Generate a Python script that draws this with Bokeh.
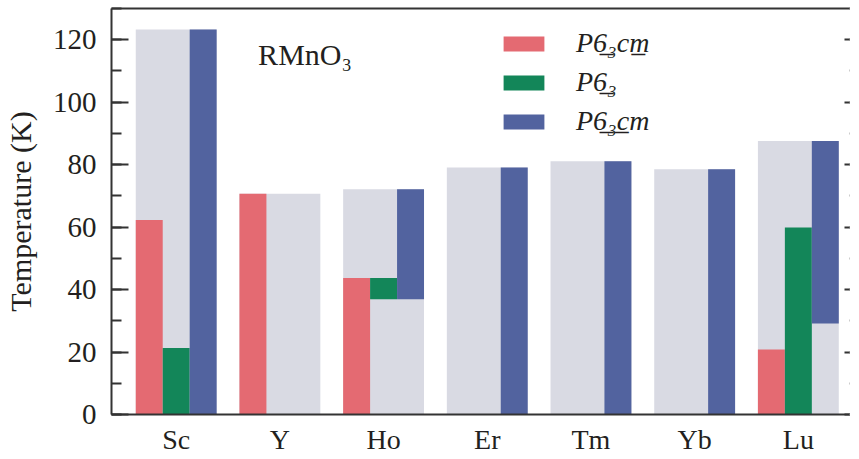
from bokeh.plotting import figure
from bokeh.models import (Range1d, LinearAxis, FixedTicker, SingleIntervalTicker,
                          Legend, LegendItem, Label, ColumnDataSource)
from bokeh.embed import file_html
from bokeh.resources import INLINE

# ---------------- data ----------------
elements = ["Sc", "Y", "Ho", "Er", "Tm", "Yb", "Lu"]
total_top = [123.3, 70.7, 72.1, 79.1, 81.1, 78.5, 87.6]
pink_bottom = [0, 0, 0, None, None, None, 0]
pink_top = [62.3, 70.7, 43.7, None, None, None, 20.8]
green_bottom = [0, None, 36.9, None, None, None, 0]
green_top = [21.3, None, 43.7, None, None, None, 59.9]
blue_bottom = [0, None, 36.9, 0, 0, 0, 29.1]
blue_top = [123.3, None, 72.1, 79.1, 81.1, 78.5, 87.6]
legend_labels = ["P6\u0332\u2083cm\u0332", "P6\u0332\u2083", "P6\u0332\u2083c\u0332m"]
y_ticks = [0, 20, 40, 60, 80, 100, 120]

PINK = "#E46A72"
GREEN = "#138659"
BLUE = "#52639F"
GRAY = "#D9DAE3"
INK = "#231F20"
SERIF = "Liberation Serif"

GROUP_W = 0.78
SUB_W = 0.26
positions = list(range(1, len(elements) + 1))


def series(bottoms, tops, offset):
    xs, bs, ts = [], [], []
    for pos, b, t in zip(positions, bottoms, tops):
        if b is None or t is None:
            continue
        xs.append(pos + offset)
        bs.append(b)
        ts.append(t)
    return ColumnDataSource(dict(x=xs, bottom=bs, top=ts))


p = figure(width=850, height=458, output_backend="svg", toolbar_location=None,
           x_range=Range1d(0.376, 7.503), y_range=Range1d(0, 130),
           min_border_left=104, min_border_right=0, min_border_top=8,
           min_border_bottom=44, outline_line_color=None,
           x_axis_location=None, y_axis_location=None)
p.background_fill_color = "white"
p.border_fill_color = "white"
p.xgrid.visible = False
p.ygrid.visible = False

# background (total) bars
p.vbar(x=positions, bottom=0, top=total_top, width=GROUP_W,
       fill_color=GRAY, line_color=None)

r_pink = p.vbar(x="x", bottom="bottom", top="top", width=SUB_W,
                source=series(pink_bottom, pink_top, -SUB_W),
                fill_color=PINK, line_color=None)
r_green = p.vbar(x="x", bottom="bottom", top="top", width=SUB_W,
                 source=series(green_bottom, green_top, 0.0),
                 fill_color=GREEN, line_color=None)
r_blue = p.vbar(x="x", bottom="bottom", top="top", width=SUB_W,
                source=series(blue_bottom, blue_top, SUB_W),
                fill_color=BLUE, line_color=None)

# ---------------- axes ----------------
yticker = SingleIntervalTicker(interval=20, num_minor_ticks=2)
yl = LinearAxis(ticker=yticker, axis_label="Temperature (K)")
yl.axis_line_width = 2
yl.axis_line_color = "#333333"
yl.major_tick_in = 17
yl.major_tick_out = 0
yl.minor_tick_in = 10
yl.minor_tick_out = 0
yl.major_tick_line_width = 2
yl.minor_tick_line_width = 2
yl.major_tick_line_color = "#333333"
yl.minor_tick_line_color = "#333333"
yl.major_label_text_font = SERIF
yl.major_label_text_font_size = "29px"
yl.major_label_text_color = INK
yl.major_label_standoff = 15
yl.axis_label_text_font = SERIF
yl.axis_label_text_font_size = "30px"
yl.axis_label_text_font_style = "normal"
yl.axis_label_text_color = INK
yl.axis_label_standoff = 13
p.add_layout(yl, "left")

yr = LinearAxis(ticker=SingleIntervalTicker(interval=20, num_minor_ticks=2))
yr.axis_line_color = None
yr.major_tick_in = 6
yr.major_tick_out = 0
yr.minor_tick_in = 1
yr.minor_tick_out = 0
yr.major_tick_line_width = 2
yr.minor_tick_line_width = 2
yr.major_tick_line_color = "#333333"
yr.minor_tick_line_color = "#999999"
yr.major_label_overrides = {t: "" for t in y_ticks}
yr.major_label_standoff = 0
yr.major_label_text_font_size = "0px"
p.add_layout(yr, "right")

xb = LinearAxis(ticker=FixedTicker(ticks=positions))
xb.major_label_overrides = {pos: name for pos, name in zip(positions, elements)}
xb.axis_line_width = 2
xb.axis_line_color = "#333333"
xb.major_tick_in = 0
xb.major_tick_out = 0
xb.minor_tick_line_color = None
xb.major_label_text_font = SERIF
xb.major_label_text_font_size = "28px"
xb.major_label_text_color = INK
xb.major_label_standoff = 9
p.add_layout(xb, "below")

xt = LinearAxis(ticker=FixedTicker(ticks=[]))
xt.axis_line_width = 2
xt.axis_line_color = "#333333"
xt.major_tick_in = 0
xt.major_tick_out = 0
xt.minor_tick_line_color = None
xt.major_label_standoff = 0
xt.major_label_text_font_size = "0px"
p.add_layout(xt, "above")

# ---------------- annotations ----------------
p.add_layout(Label(x=1.79, y=115.2, text="RMnO\u2083", text_font=SERIF,
                   text_font_size="30px", text_color=INK,
                   text_baseline="alphabetic"))

legend = Legend(items=[LegendItem(label=legend_labels[0], renderers=[r_pink]),
                       LegendItem(label=legend_labels[1], renderers=[r_green]),
                       LegendItem(label=legend_labels[2], renderers=[r_blue])],
                location=(387, 277), orientation="vertical")
legend.glyph_width = 51
legend.glyph_height = 19
legend.label_text_font = SERIF
legend.label_text_font_style = "italic"
legend.label_text_font_size = "28px"
legend.label_text_color = INK
legend.label_standoff = 27
legend.spacing = 7
legend.padding = 0
legend.margin = 0
legend.border_line_color = None
legend.background_fill_alpha = 0
p.add_layout(legend, "center")

open("out.html", "w").write(file_html(p, INLINE))
